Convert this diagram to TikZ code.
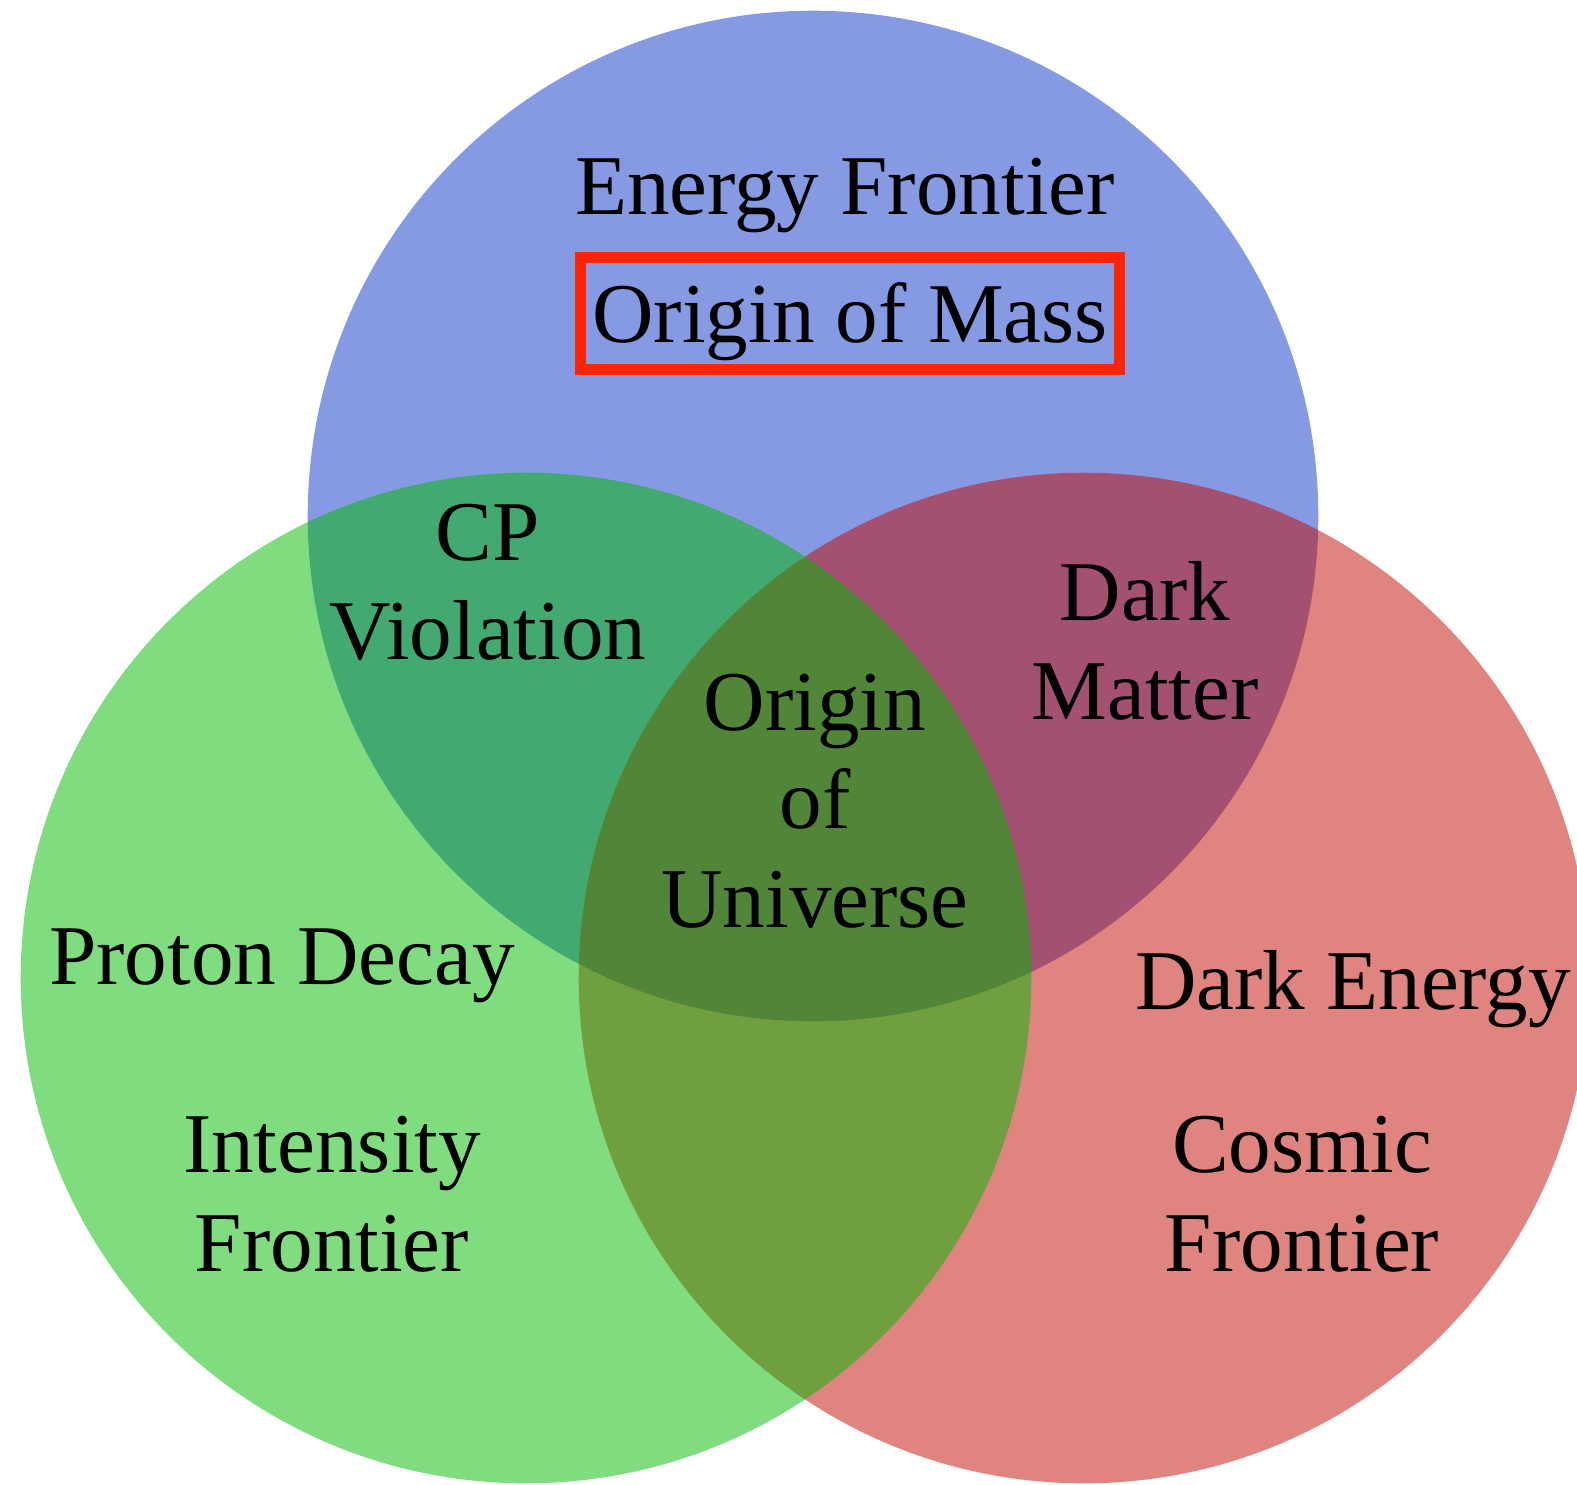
\documentclass[tikz,border=0pt]{standalone}
\usepackage{fontspec}
\setmainfont{Liberation Serif}
\usepackage{tikz}
\usetikzlibrary{positioning}

\definecolor{frontblue}{RGB}{13,53,201}
\definecolor{frontred}{RGB}{193,9,0}
\definecolor{frontgreen}{RGB}{0,187,0}
\definecolor{massred}{RGB}{255,36,0}

\begin{document}
\begin{tikzpicture}[
    x=0.01cm, y=-0.01cm,
    frontier/.style={circle, minimum size=10.1cm, inner sep=0pt, fill=#1, fill opacity=0.5},
    topic/.style={align=center, anchor=base, inner sep=0pt, font=\fontsize{24.2}{27.9}\selectfont},
    massbox/.style={draw=massred, line width=0.11cm, minimum width=5.38cm,
                    text height=0.84cm, text depth=0.27cm}
  ]
  \clip (0,0) rectangle (1577,1484);
  % the three frontiers
  \node[frontier=frontblue]  (energy)    at (813,516)  {};
  \node[frontier=frontred]   (cosmic)    at (1084,978) {};
  \node[frontier=frontgreen] (intensity) at (526,978)  {};
  % texts (base = last line)
  \node[topic] (ef)   at (845,214)  {Energy Frontier};
  \node[topic, massbox] (mass) at (850,342) {Origin of Mass};
  \node[topic] (cp)   at (488,659)  {CP\\Violation};
  \node[topic] (dm)   at (1145,719) {Dark\\Matter};
  \node[topic] (ou)   at (815,927)  {Origin\\of\\Universe};
  \node[topic] (pd)   at (282,984)  {Proton Decay};
  \node[topic] (de)   at (1353,1009) {Dark Energy};
  \node[topic] (inf)  at (332,1271) {Intensity\\Frontier};
  \node[topic] (cf)   at (1302,1271) {Cosmic\\Frontier};
\end{tikzpicture}
\end{document}
